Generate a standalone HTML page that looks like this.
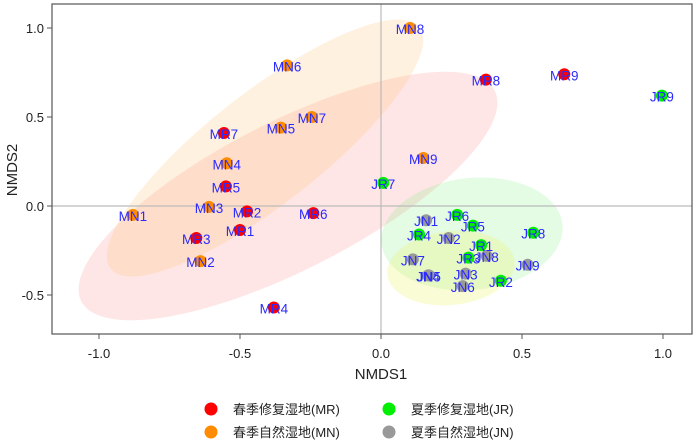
<!DOCTYPE html>
<html><head><meta charset="utf-8"><style>
body{margin:0;background:#fff;}
svg{display:block;font-family:"Liberation Sans",Arial,sans-serif;}
</style></head><body>
<svg id="chart" width="694" height="443" viewBox="0 0 694 443" xmlns="http://www.w3.org/2000/svg">
<g id="ellipses">
<ellipse cx="288" cy="196" rx="232" ry="74" transform="rotate(-27 288 196)" fill="rgba(255,140,140,0.22)"/>
<ellipse cx="265" cy="148" rx="196" ry="56" transform="rotate(-38 265 148)" fill="rgba(255,190,110,0.22)"/>
<ellipse cx="472" cy="234" rx="91" ry="56" transform="rotate(-6 472 234)" fill="rgba(130,235,130,0.22)"/>
<ellipse cx="451" cy="268" rx="64" ry="37" transform="rotate(-6 451 268)" fill="rgba(240,245,120,0.3)"/>
</g>
<g id="axes"></g>
<g id="points"></g>
<g id="legend"></g>
</svg>
<script>
const mrNames=["MR1","MR2","MR3","MR4","MR5","MR6","MR7","MR8","MR9"];
const mrX=[-0.50,-0.475,-0.655,-0.38,-0.55,-0.24,-0.557,0.372,0.65];
const mrY=[-0.135,-0.03,-0.18,-0.57,0.11,-0.04,0.41,0.71,0.74];
const mnNames=["MN1","MN2","MN3","MN4","MN5","MN6","MN7","MN8","MN9"];
const mnX=[-0.88,-0.64,-0.61,-0.547,-0.355,-0.333,-0.245,0.103,0.15];
const mnY=[-0.05,-0.31,-0.005,0.24,0.44,0.79,0.50,1.0,0.27];
const jrNames=["JR1","JR2","JR3","JR4","JR5","JR6","JR7","JR8","JR9"];
const jrX=[0.355,0.425,0.31,0.135,0.326,0.27,0.008,0.54,0.996];
const jrY=[-0.22,-0.42,-0.29,-0.16,-0.11,-0.05,0.13,-0.15,0.62];
const jnNames=["JN1","JN2","JN3","JN4","JN5","JN6","JN7","JN8","JN9"];
const jnX=[0.16,0.24,0.30,0.167,0.17,0.29,0.113,0.375,0.52];
const jnY=[-0.08,-0.18,-0.38,-0.39,-0.39,-0.45,-0.30,-0.28,-0.33];
const xTicks=[-1.0,-0.5,0.0,0.5,1.0];
const yTicks=[-0.5,0.0,0.5,1.0];
const legendLabels=["春季修复湿地(MR)","春季自然湿地(MN)","夏季修复湿地(JR)","夏季自然湿地(JN)"];
const colors=["#ff0000","#ff8c00","#00ee00","#999999"];

const NS="http://www.w3.org/2000/svg";
const L=52,R=692,T=4,B=334;
function sx(v){return 381+v*282;}
function sy(v){return 206-v*178;}
function mk(tag,attrs,parent,text){const e=document.createElementNS(NS,tag);for(const k in attrs)e.setAttribute(k,attrs[k]);if(text!==undefined)e.textContent=text;parent.appendChild(e);return e;}
const ax=document.getElementById('axes');
let l1=mk('line',{x1:sx(0),x2:sx(0),y1:T,y2:B,stroke:'#bbb','stroke-width':1.2},ax);


let l2=mk('line',{x1:L,x2:R,y1:sy(0),y2:sy(0),stroke:'#bbb','stroke-width':1.2},ax);


let fr=mk('rect',{x:L,y:T,width:R-L,height:B-T,fill:'none',stroke:'#555','stroke-width':1.2},ax);


xTicks.forEach(v=>{
 const t=mk('line',{x1:sx(v),x2:sx(v),y1:B,y2:B+5,stroke:'#555'},ax);
 
 
 const tl=mk('text',{x:sx(v),y:B+24,'text-anchor':'middle','font-size':13,fill:'#222'},ax,v.toFixed(1));
 
 
});
yTicks.forEach(v=>{
 const t=mk('line',{x1:L-5,x2:L,y1:sy(v),y2:sy(v),stroke:'#555'},ax);
 
 
 const tl=mk('text',{x:L-8,y:sy(v)+5,'text-anchor':'end','font-size':13,fill:'#222'},ax,v.toFixed(1));
 
 
});
let xt=mk('text',{x:381,y:379,'text-anchor':'middle','font-size':15,fill:'#222'},ax,'NMDS1');


let yt=mk('text',{x:17,y:170,'text-anchor':'middle','font-size':15,fill:'#222',transform:'rotate(-90 17 170)'},ax,'NMDS2');



const pg=document.getElementById('points');
const groups=[[mrNames,mrX,mrY],[mnNames,mnX,mnY],[jrNames,jrX,jrY],[jnNames,jnX,jnY]];
groups.forEach((g,gi)=>{
 g[0].forEach((n,i)=>{
  const c=mk('circle',{cx:sx(g[1][i]),cy:sy(g[2][i]),r:6,fill:colors[gi]},pg);
  
  
 });
});
groups.forEach((g,gi)=>{
 g[0].forEach((n,i)=>{
  const t=mk('text',{x:sx(g[1][i]),y:sy(g[2][i])+6,'text-anchor':'middle','font-size':13.5,fill:'#2a2aff'},pg,n);
  
  
 });
});
const lg=document.getElementById('legend');
const lpos=[[211,409],[211,432],[389,409],[389,432]];
legendLabels.forEach((s,i)=>{
 const c=mk('circle',{cx:lpos[i][0],cy:lpos[i][1],r:6.5,fill:colors[i]},lg);
 
 
 const t=mk('text',{x:lpos[i][0]+22,y:lpos[i][1]+5,'font-size':13,fill:'#222','font-family':'"Liberation Sans","Noto Sans CJK SC",sans-serif'},lg,s);
 
 
});
</script>
</body></html>
